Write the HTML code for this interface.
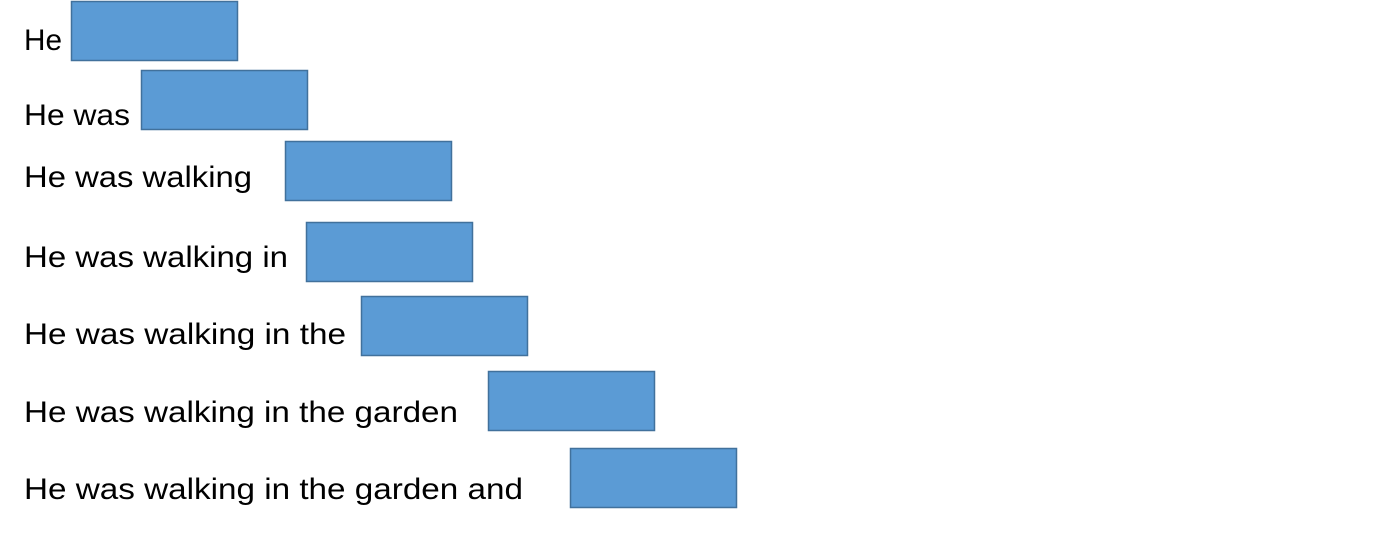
<!DOCTYPE html>
<html><head><meta charset="utf-8"><style>
html,body{margin:0;padding:0;background:#fff;}
svg{display:block;}
text{font-family:"Liberation Sans",sans-serif;font-size:30px;fill:#000;}
</style></head><body>
<svg width="1400" height="533" viewBox="0 0 1400 533">
<g>
<text x="24" y="50" textLength="38" lengthAdjust="spacingAndGlyphs">He</text>
<rect x="71.5" y="1.5" width="166" height="59" fill="#5B9BD5" stroke="#41719C" stroke-width="1.5"/>
</g>
<g>
<text x="24" y="125" textLength="106" lengthAdjust="spacingAndGlyphs">He was</text>
<rect x="141.5" y="70.5" width="166" height="59" fill="#5B9BD5" stroke="#41719C" stroke-width="1.5"/>
</g>
<g>
<text x="24" y="187" textLength="228" lengthAdjust="spacingAndGlyphs">He was walking</text>
<rect x="285.5" y="141.5" width="166" height="59" fill="#5B9BD5" stroke="#41719C" stroke-width="1.5"/>
</g>
<g>
<text x="24" y="267" textLength="264" lengthAdjust="spacingAndGlyphs">He was walking in</text>
<rect x="306.5" y="222.5" width="166" height="59" fill="#5B9BD5" stroke="#41719C" stroke-width="1.5"/>
</g>
<g>
<text x="24" y="344" textLength="322" lengthAdjust="spacingAndGlyphs">He was walking in the</text>
<rect x="361.5" y="296.5" width="166" height="59" fill="#5B9BD5" stroke="#41719C" stroke-width="1.5"/>
</g>
<g>
<text x="24" y="422" textLength="434" lengthAdjust="spacingAndGlyphs">He was walking in the garden</text>
<rect x="488.5" y="371.5" width="166" height="59" fill="#5B9BD5" stroke="#41719C" stroke-width="1.5"/>
</g>
<g>
<text x="24" y="499" textLength="499" lengthAdjust="spacingAndGlyphs">He was walking in the garden and</text>
<rect x="570.5" y="448.5" width="166" height="59" fill="#5B9BD5" stroke="#41719C" stroke-width="1.5"/>
</g>
</svg>
</body></html>
